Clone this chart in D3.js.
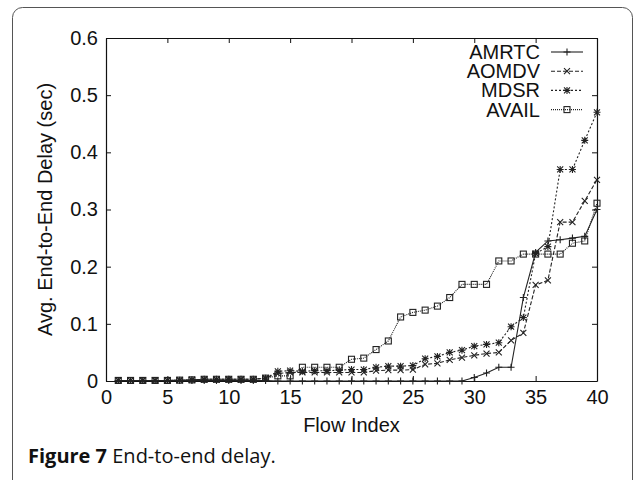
<!DOCTYPE html>
<html>
<head>
<meta charset="utf-8">
<script src="https://cdn.jsdelivr.net/npm/d3@7"></script>
<style>
    body { margin: 0; background: #fff; }
    text { font-family: "Liberation Sans", Arial, sans-serif; fill: #111; }
    .caption { font-family: "Open Sans", "Noto Sans", sans-serif; }
</style>
</head>
<body>
<div id="chart-area"></div>
<script>
/*
*    Figure 7 - End-to-end delay per flow
*/
var width = 635;
var height = 480;

// plot frame
var plotLeft = 106, plotRight = 597, plotTop = 38, plotBottom = 381;

var flowIndex = d3.range(1, 41);
var xTicks = [0, 5, 10, 15, 20, 25, 30, 35, 40];
var yTicks = [0, 0.1, 0.2, 0.3, 0.4, 0.5, 0.6];

var amrtc = [0.001, 0.001, 0.001, 0.001, 0.001, 0.001, 0.001, 0.001, 0.001, 0.001,
    0.001, 0.001, 0.001, 0, 0, 0, 0, 0, 0, 0,
    0, 0, 0, 0, 0, 0, 0, 0, 0, 0.006,
    0.014, 0.024, 0.024, 0.146, 0.225, 0.245, 0.247, 0.25, 0.253, 0.30];

var aomdv = [0.001, 0.001, 0.001, 0.001, 0.001, 0.0015, 0.002, 0.003, 0.003, 0.003,
    0.003, 0.003, 0.005, 0.013, 0.015, 0.015, 0.015, 0.015, 0.015, 0.015,
    0.015, 0.018, 0.019, 0.019, 0.020, 0.029, 0.031, 0.037, 0.041, 0.045,
    0.048, 0.050, 0.071, 0.084, 0.168, 0.176, 0.278, 0.278, 0.315, 0.352];

var mdsr = [0.001, 0.001, 0.001, 0.001, 0.001, 0.0015, 0.002, 0.003, 0.003, 0.003,
    0.003, 0.003, 0.005, 0.017, 0.018, 0.017, 0.018, 0.018, 0.019, 0.020,
    0.020, 0.024, 0.026, 0.026, 0.027, 0.039, 0.043, 0.050, 0.054, 0.061,
    0.064, 0.067, 0.095, 0.111, 0.223, 0.235, 0.370, 0.370, 0.421, 0.470];

var avail = [0.001, 0.001, 0.001, 0.001, 0.001, 0.0015, 0.002, 0.003, 0.003, 0.003,
    0.003, 0.003, 0.005, 0.009, 0.009, 0.024, 0.024, 0.024, 0.024, 0.038,
    0.040, 0.055, 0.070, 0.112, 0.120, 0.124, 0.131, 0.146, 0.169, 0.169,
    0.169, 0.210, 0.210, 0.222, 0.222, 0.222, 0.222, 0.241, 0.245, 0.311];

var seriesNames = ["AMRTC", "AOMDV", "MDSR", "AVAIL"];
var seriesValues = [amrtc, aomdv, mdsr, avail];
var seriesDash = [null, "4,2", "2,2", "1,1"];
var seriesMarker = ["plus", "cross", "star", "square"];

var svg = d3.select("#chart-area")
    .append("svg")
    .attr("width", width)
    .attr("height", height);

// rounded figure border
svg.append("rect")
    .attr("x", 12.5)
    .attr("y", 7.5)
    .attr("width", 620)
    .attr("height", 500)
    .attr("rx", 10)
    .attr("fill", "none")
    .attr("stroke", "#555")
    .attr("stroke-width", 1);

var x = d3.scaleLinear()
    .domain([0, 40])
    .range([plotLeft, plotRight]);

var y = d3.scaleLinear()
    .domain([0, 0.6])
    .range([plotBottom, plotTop]);

// axes with inward ticks, mirrored on top and right
var xAxisCall = d3.axisBottom(x).tickValues(xTicks).tickSizeInner(-5).tickSizeOuter(0).tickPadding(9);
var yAxisCall = d3.axisLeft(y).tickValues(yTicks).tickSizeInner(-5).tickSizeOuter(0).tickPadding(8)
    .tickFormat(function(d) { return d === 0 ? "0" : d3.format(".1f")(d); });

svg.append("g")
    .attr("transform", "translate(0," + plotBottom + ")")
    .call(xAxisCall);
svg.append("g")
    .attr("transform", "translate(" + plotLeft + ",0)")
    .call(yAxisCall);
svg.append("g")
    .attr("transform", "translate(0," + plotTop + ")")
    .call(d3.axisTop(x).tickValues(xTicks).tickSizeInner(-5).tickSizeOuter(0).tickFormat(""));
svg.append("g")
    .attr("transform", "translate(" + plotRight + ",0)")
    .call(d3.axisRight(y).tickValues(yTicks).tickSizeInner(-5).tickSizeOuter(0).tickFormat(""));

svg.selectAll(".domain").attr("stroke", "#111").attr("stroke-width", 1.2);
svg.selectAll(".tick line").attr("stroke", "#111");
svg.selectAll(".tick text")
    .attr("font-family", "Liberation Sans, Arial, sans-serif")
    .attr("font-size", "20px")
    .attr("fill", "#111");

// axis labels
svg.append("text")
    .attr("x", (plotLeft + plotRight) / 2)
    .attr("y", 432)
    .attr("font-size", "20px")
    .attr("text-anchor", "middle")
    .text("Flow Index");

svg.append("text")
    .attr("transform", "translate(52," + ((plotTop + plotBottom) / 2) + ") rotate(-90)")
    .attr("font-size", "20px")
    .attr("text-anchor", "middle")
    .text("Avg. End-to-End Delay (sec)");

function drawMarker(sel, type) {
    var s = 3.5;
    if (type === "plus") {
        sel.append("path").attr("d", "M" + (-s) + ",0H" + s + "M0," + (-s) + "V" + s);
    } else if (type === "cross") {
        sel.append("path").attr("d", "M-3,-3L3,3M-3,3L3,-3");
    } else if (type === "star") {
        sel.append("path").attr("d", "M-3,-3L3,3M-3,3L3,-3M" + (-s) + ",0H" + s + "M0," + (-s) + "V" + s);
    } else {
        sel.append("rect").attr("x", -3).attr("y", -3).attr("width", 6).attr("height", 6)
            .attr("fill", "none");
    }
    sel.selectAll("path, rect")
        .attr("stroke", "#222")
        .attr("stroke-width", 1.1);
}

var line = d3.line()
    .x(function(d, i) { return x(flowIndex[i]); })
    .y(function(d) { return y(d); });

// draw AVAIL first so the solid line ends up on top
[3, 2, 1, 0].forEach(function(k) {
    var g = svg.append("g");
    g.append("path")
        .attr("d", line(seriesValues[k]))
        .attr("fill", "none")
        .attr("stroke", "#222")
        .attr("stroke-width", 1.1)
        .attr("stroke-dasharray", seriesDash[k]);

    g.selectAll(".pt")
        .data(seriesValues[k])
        .enter()
        .append("g")
        .attr("transform", function(d, i) {
            return "translate(" + x(flowIndex[i]) + "," + y(d) + ")";
        })
        .each(function() { drawMarker(d3.select(this), seriesMarker[k]); });
});

// legend
seriesNames.forEach(function(name, k) {
    var ly = 52 + k * 19.2;
    svg.append("text")
        .attr("x", 540)
        .attr("y", ly + 7)
        .attr("font-size", "20px")
        .attr("text-anchor", "end")
        .text(name);
    svg.append("line")
        .attr("x1", 551).attr("x2", 583)
        .attr("y1", ly).attr("y2", ly)
        .attr("stroke", "#222")
        .attr("stroke-width", 1.1)
        .attr("stroke-dasharray", seriesDash[k]);
    var m = svg.append("g").attr("transform", "translate(567," + ly + ")");
    drawMarker(m, seriesMarker[k]);
});

// caption
var cap = svg.append("text")
    .attr("class", "caption")
    .attr("x", 28)
    .attr("y", 463)
    .attr("font-size", "20px");
cap.append("tspan").attr("font-weight", "bold").text("Figure 7");
cap.append("tspan").text(" End-to-end delay.");
</script>
</body>
</html>
